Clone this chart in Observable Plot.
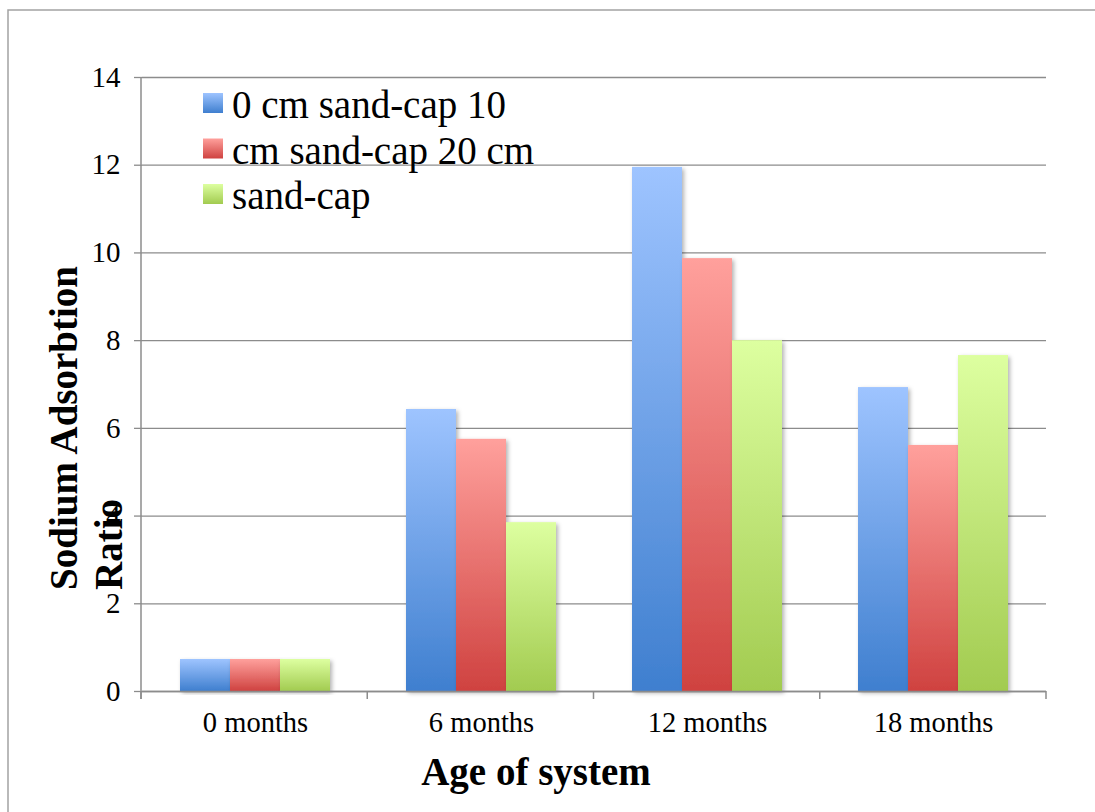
<!DOCTYPE html>
<html>
<head>
<meta charset="utf-8">
<script src="https://cdn.jsdelivr.net/npm/d3@7"></script>
<script src="https://cdn.jsdelivr.net/npm/@observablehq/plot@0.6"></script>
<style>
  html, body { margin: 0; padding: 0; background: #fff; overflow: hidden; }
  #chart { position: relative; width: 1095px; height: 812px; overflow: hidden; }
</style>
</head>
<body>
<div id="chart"></div>
<script>
const categories = ["0 months", "6 months", "12 months", "18 months"];
const series = ["0 cm sand-cap 10", "cm sand-cap 20 cm", "sand-cap"];
const valuesA = [0.73, 6.43, 11.95, 6.93];
const valuesB = [0.73, 5.75, 9.87, 5.61];
const valuesC = [0.73, 3.85, 8.0, 7.66];
const yTicks = [0, 2, 4, 6, 8, 10, 12, 14];
const yTitleLines = ["Sodium Adsorbtion", "Ratio"];
const xTitle = "Age of system";

const seriesValues = [valuesA, valuesB, valuesC];
const gradIds = ["gBlue", "gRed", "gGreen"];
const gradStops = [["#9ec4ff", "#3f7fcf"], ["#ffa09c", "#cf4240"], ["#ddffa0", "#a2cb50"]];

const data = categories.flatMap((c, i) =>
  series.map((s, j) => ({ category: c, series: s, value: seriesValues[j][i] }))
);

const gridColor = "#8c8c8c";
const font = "'Liberation Serif', 'Times New Roman', serif";

const plot = Plot.plot({
  width: 1095,
  height: 812,
  marginLeft: 141,
  marginRight: 49,
  marginTop: 77,
  marginBottom: 121,
  style: { fontFamily: font, fontSize: "28px", color: "black", background: "transparent", overflow: "hidden" },
  fx: { domain: categories, padding: 0, label: null },
  x: { domain: series, paddingInner: 0, paddingOuter: 0.73, axis: null },
  y: { domain: [0, 14], label: null },
  color: { domain: series, range: gradIds.map(id => `url(#${id})`) },
  marks: [
    Plot.gridY(yTicks, { stroke: gridColor, strokeOpacity: 1, strokeWidth: 1.3 }),
    Plot.barY(data, { fx: "category", x: "series", y: "value", fill: "series" }),
    Plot.ruleY([0], { stroke: gridColor, strokeWidth: 1.5 }),
    Plot.axisY(yTicks, { tickSize: 8, tickPadding: 14, stroke: gridColor, strokeWidth: 1.3, fill: "black", fontSize: 29, label: null }),
    Plot.axisFx({ anchor: "bottom", tickSize: 0, tickPadding: 20, fontSize: 28.5, label: null, fill: "black" })
  ]
});

document.getElementById("chart").appendChild(plot);

const svg = d3.select(plot);
const defs = svg.insert("defs", ":first-child");
gradIds.forEach((id, j) => {
  const g = defs.append("linearGradient").attr("id", id).attr("x1", 0).attr("y1", 0).attr("x2", 0).attr("y2", 1);
  g.append("stop").attr("offset", "0%").attr("stop-color", gradStops[j][0]);
  g.append("stop").attr("offset", "100%").attr("stop-color", gradStops[j][1]);
});
const f = defs.append("filter").attr("id", "shadow").attr("x", "-20%").attr("y", "-5%").attr("width", "150%").attr("height", "115%");
f.append("feDropShadow").attr("dx", 2).attr("dy", 2).attr("stdDeviation", 2).attr("flood-color", "#000").attr("flood-opacity", 0.3);
svg.selectAll('g[aria-label="bar"] rect').attr("filter", "url(#shadow)");

// axis lines and category boundary ticks from Plot's scales
const fxs = plot.scale("fx");
const ys = Plot.scale({ y: plot.scale("y") });
const [r0, r1] = fxs.range;
const step = (r1 - r0) / categories.length;
const y0 = ys.apply(0);
const yTop = ys.apply(14);
const ax = svg.append("g").attr("stroke", gridColor).attr("stroke-width", 1.5);
ax.append("line").attr("x1", r0).attr("x2", r0).attr("y1", yTop).attr("y2", y0 + 8);
d3.range(categories.length + 1).forEach(i => {
  const x = r0 + i * step;
  ax.append("line").attr("x1", x).attr("x2", x).attr("y1", y0).attr("y2", y0 + 8);
});

// border frame (top and left edges visible)
svg.append("path").attr("d", "M8,812V10H1095")
  .attr("fill", "none").attr("stroke", "#a3a3a3").attr("stroke-width", 1.5);

// axis titles
const tAttrs = sel => sel.attr("font-family", font).attr("font-weight", "bold").attr("font-size", 39)
  .attr("fill", "black");
tAttrs(svg.append("text").attr("transform", "translate(77,590) rotate(-90)").attr("text-anchor", "start"))
  .text(yTitleLines[0]);
tAttrs(svg.append("text").attr("transform", "translate(122,590) rotate(-90)").attr("text-anchor", "start"))
  .text(yTitleLines[1]);
tAttrs(svg.append("text").attr("x", 536).attr("y", 785).attr("text-anchor", "middle"))
  .text(xTitle);

// legend
const lg = svg.append("g").attr("transform", "translate(203,93)");
series.forEach((s, j) => {
  const row = lg.append("g").attr("transform", `translate(0,${j * 45.5})`);
  row.append("rect").attr("width", 20).attr("height", 20).attr("fill", `url(#${gradIds[j]})`);
  row.append("text").attr("x", 29).attr("y", 25).attr("text-anchor", "start")
    .attr("font-family", font).attr("font-size", 39).attr("fill", "black").text(s);
});
</script>
</body>
</html>
